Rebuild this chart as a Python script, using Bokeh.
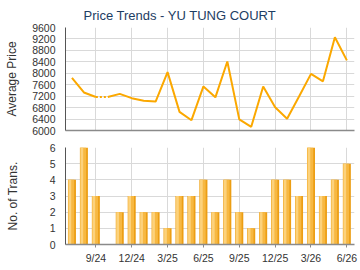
from bokeh.plotting import figure
from bokeh.layouts import column
from bokeh.models import FixedTicker, Range1d
from bokeh.embed import file_html
from bokeh.resources import INLINE

months = ["7/24", "8/24", "9/24", "10/24", "11/24", "12/24", "1/25", "2/25", "3/25",
          "4/25", "5/25", "6/25", "7/25", "8/25", "9/25", "10/25", "11/25", "12/25",
          "1/26", "2/26", "3/26", "4/26", "5/26", "6/26"]
price = [7840, 7330, 7170, 7170, 7280, 7130, 7040, 7010, 8040, 6650, 6360, 7540,
         7160, 8410, 6390, 6130, 7540, 6810, 6410, 7190, 7980, 7720, 9260, 8450]
trans = [4, 6, 3, 0, 2, 3, 2, 2, 1, 3, 3, 4, 2, 4, 2, 1, 2, 4, 4, 3, 6, 3, 4, 5]
tick_labels = ["9/24", "12/24", "3/25", "6/25", "9/25", "12/25", "3/26", "6/26"]
gap_index = 2  # dotted segment between 9/24 and 10/24

idx = list(range(len(months)))
tick_pos = [months.index(t) for t in tick_labels]

FONT = "Liberation Sans"
GRID = "#d9d9d9"
TXT = "#333333"
X_RANGE = (-0.54, 23.64)


def style(p, ylabel, standoff):
    p.outline_line_color = None
    p.background_fill_color = "white"
    p.border_fill_color = "white"
    p.xgrid.ticker = FixedTicker(ticks=tick_pos)
    p.grid.grid_line_color = GRID
    p.grid.grid_line_width = 1
    p.yaxis.axis_label = ylabel
    p.yaxis.axis_label_text_font = FONT
    p.yaxis.axis_label_text_font_size = "12px"
    p.yaxis.axis_label_text_font_style = "normal"
    p.yaxis.axis_label_text_color = TXT
    p.yaxis.axis_label_standoff = standoff
    p.yaxis.major_label_text_font = FONT
    p.yaxis.major_label_text_font_size = "10.5px"
    p.yaxis.major_label_text_color = TXT
    p.yaxis.major_tick_line_color = None
    p.yaxis.major_tick_out = 0
    p.yaxis.major_tick_in = 0
    p.yaxis.minor_tick_line_color = None
    p.yaxis.minor_tick_out = 0
    p.yaxis.minor_tick_in = 0
    p.yaxis.major_label_standoff = 10
    p.yaxis.axis_line_color = "#555555"
    p.yaxis.axis_line_width = 1
    p.xaxis.axis_line_color = "#8a8a8a"
    p.xaxis.axis_line_width = 1.5
    p.xaxis.minor_tick_line_color = None
    p.xaxis.minor_tick_out = 0
    p.xaxis.minor_tick_in = 0


# ---- top: price trend ----
p1 = figure(width=360, height=138, output_backend="svg", toolbar_location=None,
            x_range=Range1d(*X_RANGE), y_range=Range1d(6000, 9600),
            min_border_left=65, min_border_right=6, min_border_top=24, min_border_bottom=8)
p1.title.text = "Price Trends - YU TUNG COURT"
p1.title.text_font = FONT
p1.title.text_font_size = "13px"
p1.title.text_font_style = "normal"
p1.title.text_color = "#1d3d63"
p1.title.align = "left"
p1.title.offset = 18
style(p1, "Average Price", 10)
p1.xaxis.ticker = FixedTicker(ticks=[])
p1.yaxis.ticker = FixedTicker(ticks=list(range(6000, 9601, 400)))
p1.xaxis.major_tick_line_color = None
p1.xaxis.major_tick_out = 0

LINE = "#fba800"
p1.line(idx[:gap_index + 1], price[:gap_index + 1], line_color=LINE, line_width=2)
p1.line(idx[gap_index:gap_index + 2], price[gap_index:gap_index + 2], line_color=LINE,
        line_width=2, line_dash="2 2")
p1.line(idx[gap_index + 1:], price[gap_index + 1:], line_color=LINE, line_width=2)

# ---- bottom: transactions ----
p2 = figure(width=360, height=132, output_backend="svg", toolbar_location=None,
            x_range=Range1d(*X_RANGE), y_range=Range1d(0, 6),
            min_border_left=65, min_border_right=6, min_border_top=9, min_border_bottom=26)
style(p2, "No. of Trans.", 27)
p2.xaxis.ticker = FixedTicker(ticks=tick_pos)
p2.yaxis.ticker = FixedTicker(ticks=list(range(0, 7)))
p2.xaxis.major_label_overrides = {t: l for t, l in zip(tick_pos, tick_labels)}
p2.xaxis.major_label_text_font = FONT
p2.xaxis.major_label_text_font_size = "10.5px"
p2.xaxis.major_label_text_color = TXT
p2.xaxis.major_tick_line_color = "#8a8a8a"
p2.xaxis.major_tick_in = 0
p2.xaxis.major_tick_out = 3
p2.xaxis.major_label_standoff = 4

p2.vbar(x=idx, top=trans, width=0.67, bottom=0, fill_color="#ec9e14", line_color=None)
p2.vbar(x=[i - 0.06 for i in idx], top=trans, width=0.5, bottom=0,
        fill_color="#f7b842", line_color=None)
p2.vbar(x=[i - 0.17 for i in idx], top=trans, width=0.22, bottom=0,
        fill_color="#fcd27c", line_color=None)

layout = column(p1, p2, spacing=0)
open("out.html", "w").write(file_html(layout, INLINE))
